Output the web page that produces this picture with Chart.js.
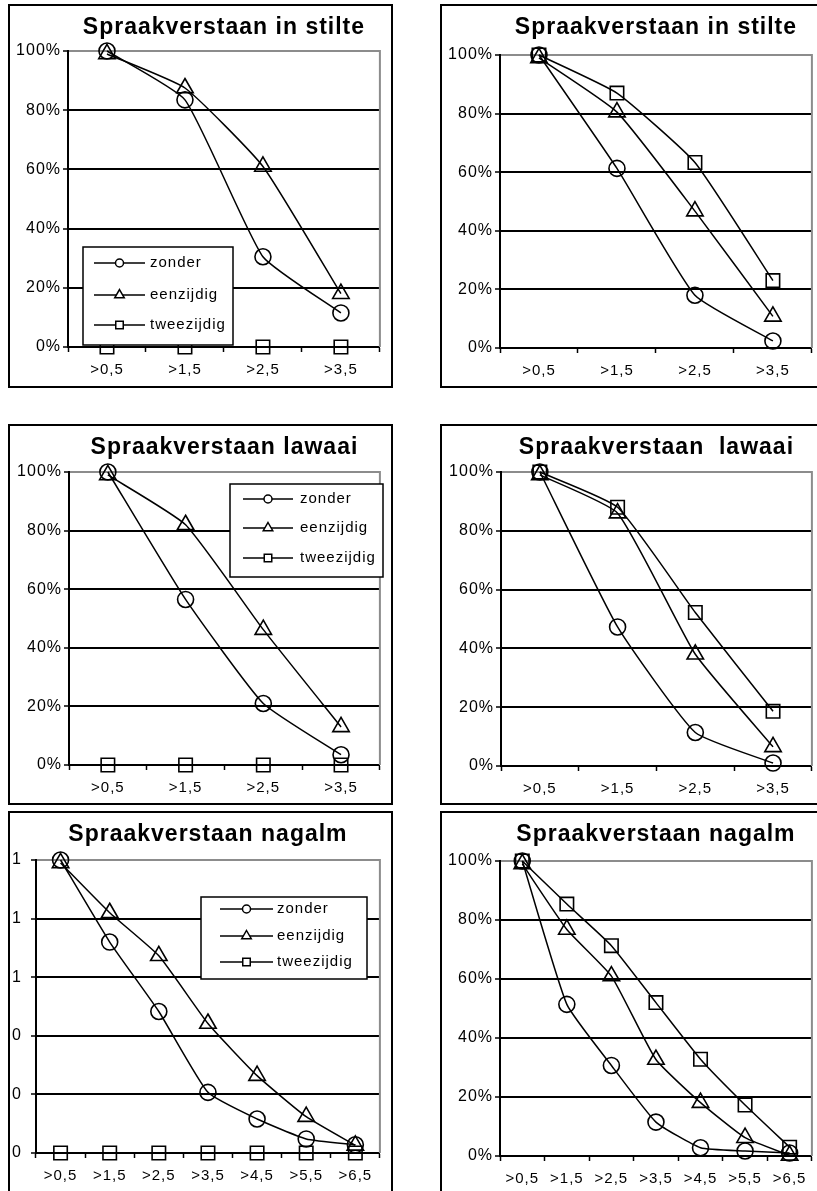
<!DOCTYPE html>
<html>
<head>
  <meta charset="UTF-8">
  <title>Spraakverstaan</title>
  <script src="https://cdn.jsdelivr.net/npm/chart.js"></script>
  <style>
    html, body { margin: 0; padding: 0; background: #fff; overflow: hidden; }
    body { width: 817px; height: 1191px; position: relative; }
    .panel { position: absolute; border: 2px solid #000; background: #fff; overflow: hidden; }
    .panel canvas { display: block; }
  </style>
</head>
<body>
  <div class="panel" style="left:8px;top:4px;width:381px;height:380px"><canvas id="c1" width="381" height="380"></canvas></div>
  <div class="panel" style="left:440px;top:4px;width:381px;height:380px"><canvas id="c2" width="381" height="380"></canvas></div>
  <div class="panel" style="left:8px;top:424px;width:381px;height:377px"><canvas id="c3" width="381" height="377"></canvas></div>
  <div class="panel" style="left:440px;top:424px;width:381px;height:377px"><canvas id="c4" width="381" height="377"></canvas></div>
  <div class="panel" style="left:8px;top:811px;width:381px;height:396px"><canvas id="c5" width="381" height="396"></canvas></div>
  <div class="panel" style="left:440px;top:811px;width:381px;height:396px"><canvas id="c6" width="381" height="396"></canvas></div>

  <script>
    // categories
    const labelsKort = ['>0,5', '>1,5', '>2,5', '>3,5'];
    const labelsLang = ['>0,5', '>1,5', '>2,5', '>3,5', '>4,5', '>5,5', '>6,5'];
    const seriesNames = ['zonder', 'eenzijdig', 'tweezijdig'];

    // stilte
    const stilteL_zonder     = [1.00, 0.835, 0.305, 0.115];
    const stilteL_eenzijdig  = [0.99, 0.875, 0.610, 0.180];
    const stilteL_tweezijdig = [0, 0, 0, 0];
    const stilteR_zonder     = [1.00, 0.613, 0.180, 0.024];
    const stilteR_eenzijdig  = [0.99, 0.805, 0.467, 0.108];
    const stilteR_tweezijdig = [1.00, 0.870, 0.633, 0.230];

    // lawaai
    const lawaaiL_zonder     = [1.00, 0.565, 0.210, 0.035];
    const lawaaiL_eenzijdig  = [0.99, 0.820, 0.462, 0.130];
    const lawaaiL_tweezijdig = [0, 0, 0, 0];
    const lawaaiR_zonder     = [1.00, 0.473, 0.114, 0.010];
    const lawaaiR_eenzijdig  = [0.99, 0.860, 0.380, 0.065];
    const lawaaiR_tweezijdig = [1.00, 0.880, 0.522, 0.186];

    // nagalm
    const nagalmL_zonder     = [1.00, 0.720, 0.483, 0.207, 0.116, 0.048, 0.028];
    const nagalmL_eenzijdig  = [0.99, 0.820, 0.673, 0.442, 0.264, 0.124, 0.026];
    const nagalmL_tweezijdig = [0, 0, 0, 0, 0, 0, 0];
    const nagalmR_zonder     = [1.00, 0.514, 0.307, 0.115, 0.028, 0.017, 0.010];
    const nagalmR_eenzijdig  = [0.99, 0.768, 0.610, 0.327, 0.181, 0.062, 0.002];
    const nagalmR_tweezijdig = [1.00, 0.854, 0.713, 0.520, 0.328, 0.173, 0.030];

    const FONT = '"Liberation Sans", Arial, sans-serif';
    const styles = ['circle', 'triangle', 'rect'];
    const radii = [8, 9.5, 9.5];
    const legendRadii = [4, 5.5, 5];

    const pct = v => Math.round(v * 100) + '%';
    const whole = v => Math.round(v);

    // wider letter spacing like the scanned original
    const spacing = {
      id: 'spacing',
      beforeUpdate(chart) { chart.ctx.letterSpacing = '1px'; },
      beforeDraw(chart) { chart.ctx.letterSpacing = '1px'; }
    };

    // grey right edge of the plot area
    const plotFrame = {
      id: 'plotFrame',
      beforeDatasetsDraw(chart) {
        const { ctx, chartArea: a } = chart;
        ctx.save();
        ctx.strokeStyle = '#8c8c8c';
        ctx.lineWidth = 2;
        ctx.beginPath();
        ctx.moveTo(a.right, a.top - 1);
        ctx.lineTo(a.right, a.bottom);
        ctx.stroke();
        ctx.restore();
      }
    };

    function marker(ctx, style, x, y, r) {
      ctx.beginPath();
      if (style === 'circle') ctx.arc(x, y, r, 0, Math.PI * 2);
      else if (style === 'triangle') {
        ctx.moveTo(x, y - r);
        ctx.lineTo(x + r * 0.866, y + r / 2);
        ctx.lineTo(x - r * 0.866, y + r / 2);
        ctx.closePath();
      } else {
        const s = r * 0.75;
        ctx.rect(x - s, y - s, 2 * s, 2 * s);
      }
      ctx.fill();
      ctx.stroke();
    }

    // boxed legend inside the plot area
    const legendBox = {
      id: 'legendBox',
      afterDatasetsDraw(chart, args, opts) {
        if (!opts || !opts.box) return;
        const { ctx, chartArea } = chart;
        const bx = chartArea.left + opts.box[0], by = chartArea.top + opts.box[1];
        ctx.save();
        ctx.fillStyle = '#fff';
        ctx.fillRect(bx, by, opts.box[2], opts.box[3]);
        ctx.strokeStyle = '#000';
        ctx.lineWidth = 1.5;
        ctx.strokeRect(bx, by, opts.box[2], opts.box[3]);
        ctx.font = '15px ' + FONT;
        ctx.textBaseline = 'middle';
        chart.data.datasets.forEach((ds, i) => {
          const y = by + opts.rows[i];
          ctx.strokeStyle = '#000';
          ctx.lineWidth = 1.5;
          ctx.beginPath();
          ctx.moveTo(bx + opts.line[0], y);
          ctx.lineTo(bx + opts.line[1], y);
          ctx.stroke();
          ctx.fillStyle = '#fff';
          marker(ctx, ds.pointStyle, bx + (opts.line[0] + opts.line[1]) / 2, y, legendRadii[i]);
          ctx.fillStyle = '#000';
          ctx.fillText(ds.label, bx + opts.text, y);
        });
        ctx.restore();
      }
    };

    function makeChart(id, cfg) {
      const datasets = cfg.series.map((vals, i) => ({
        label: seriesNames[i],
        data: vals,
        borderColor: '#000',
        borderWidth: 1.5,
        pointStyle: styles[i],
        pointRadius: radii[i],
        pointBorderWidth: 1.6,
        pointBorderColor: '#000',
        pointBackgroundColor: 'rgba(0,0,0,0)',
        tension: 0.15,
        clip: false,
        fill: false
      }));
      const canvas = document.getElementById(id);
      new Chart(canvas, {
        type: 'line',
        data: { labels: cfg.labels, datasets },
        options: {
          responsive: false,
          animation: false,
          events: [],
          layout: { padding: { left: 0, top: 0, right: canvas.width - cfg.plot[1], bottom: canvas.height - cfg.plot[3] - 36 } },
          plugins: {
            legend: { display: false },
            tooltip: { enabled: false },
            title: {
              display: true, text: cfg.title, fullSize: false, color: '#000',
              font: { family: FONT, size: 23, weight: 'bold', lineHeight: 1.2 },
              padding: { top: 8, bottom: cfg.plot[2] - 8 - 27.6 }
            },
            legendBox: cfg.legend || {}
          },
          scales: {
            x: {
              offset: true,
              grid: { offset: true, drawOnChartArea: false, drawTicks: true, tickLength: 5, tickColor: '#000', tickWidth: 1.5 },
              border: { color: '#000', width: 2 },
              ticks: { color: '#000', font: { family: FONT, size: 15 }, padding: 9, maxRotation: 0, autoSkip: false },
              afterFit: s => { s.height = 36; }
            },
            y: {
              min: 0, max: 1,
              grid: {
                color: c => (c.tick && c.tick.value > 0.99 ? '#8c8c8c' : '#000'),
                lineWidth: 2, drawTicks: true, tickLength: 5, tickColor: '#000', tickWidth: 1.5
              },
              border: { color: '#000', width: 2 },
              ticks: { stepSize: 0.2, color: '#000', font: { family: FONT, size: 16 }, padding: cfg.tickPad, callback: cfg.fmt },
              afterFit: s => { s.width = cfg.plot[0]; }
            }
          }
        },
        plugins: [spacing, plotFrame, legendBox]
      });
    }

    // plot: [left, right, top, bottom] of the plot area inside each panel
    makeChart('c1', {
      title: 'Spraakverstaan in stilte', labels: labelsKort, fmt: pct, tickPad: 2,
      series: [stilteL_zonder, stilteL_eenzijdig, stilteL_tweezijdig],
      plot: [58, 374, 45, 341],
      legend: { box: [15, 196, 150, 98], rows: [16, 48, 78], line: [11, 62], text: 67 }
    });
    makeChart('c2', {
      title: 'Spraakverstaan in stilte', labels: labelsKort, fmt: pct, tickPad: 2,
      series: [stilteR_zonder, stilteR_eenzijdig, stilteR_tweezijdig],
      plot: [58, 374, 49, 342]
    });
    makeChart('c3', {
      title: 'Spraakverstaan lawaai', labels: labelsKort, fmt: pct, tickPad: 2,
      series: [lawaaiL_zonder, lawaaiL_eenzijdig, lawaaiL_tweezijdig],
      plot: [59, 373, 46, 339],
      legend: { box: [161, 12, 153, 93], rows: [15, 44, 74], line: [13, 63], text: 70 }
    });
    makeChart('c4', {
      title: 'Spraakverstaan  lawaai', labels: labelsKort, fmt: pct, tickPad: 2,
      series: [lawaaiR_zonder, lawaaiR_eenzijdig, lawaaiR_tweezijdig],
      plot: [59, 374, 46, 340]
    });
    makeChart('c5', {
      title: 'Spraakverstaan nagalm', labels: labelsLang, fmt: whole, tickPad: 9,
      series: [nagalmL_zonder, nagalmL_eenzijdig, nagalmL_tweezijdig],
      plot: [26, 373, 47, 340],
      legend: { box: [165, 37, 166, 82], rows: [12, 39, 65], line: [19, 72], text: 76 }
    });
    makeChart('c6', {
      title: 'Spraakverstaan nagalm', labels: labelsLang, fmt: pct, tickPad: 2,
      series: [nagalmR_zonder, nagalmR_eenzijdig, nagalmR_tweezijdig],
      plot: [58, 374, 48, 343]
    });
  </script>
</body>
</html>
